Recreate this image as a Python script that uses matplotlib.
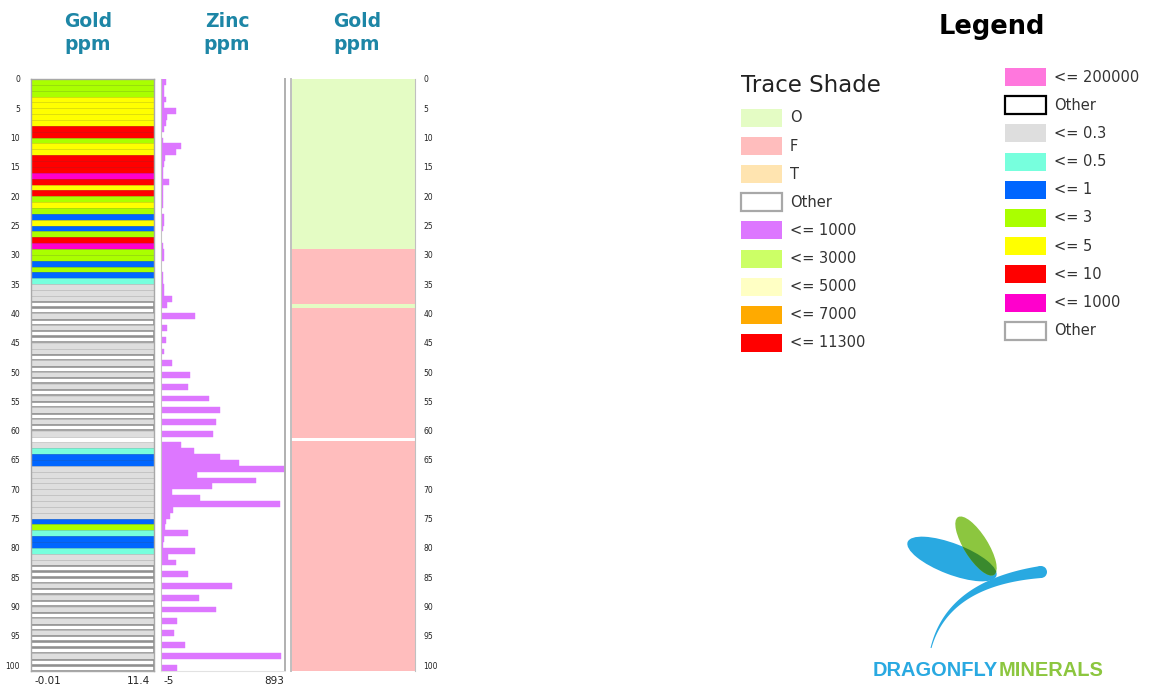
import numpy as np
import matplotlib
matplotlib.use("Agg")
import matplotlib.pyplot as plt
from matplotlib.patches import Rectangle, Ellipse, Polygon, Circle
from matplotlib.colors import to_rgb

# ---------------- data ----------------
depth = list(range(101))  # 1 m intervals, top depth

gold_class = (
    ["<= 3"] * 3 + ["<= 5"] * 5 + ["<= 10"] * 2 + ["<= 3"] + ["<= 5"] * 2 +
    ["<= 10"] * 3 + ["<= 1000", "<= 10", "<= 5", "<= 10", "<= 3", "<= 5", "<= 3",
                     "<= 1", "<= 5", "<= 1", "<= 3", "<= 10", "<= 1000", "<= 3", "<= 3",
                     "<= 1", "<= 3", "<= 1", "<= 0.5"] +
    ["<= 0.3"] * 3 +
    ["Other", "Other", "<= 0.3", "Other", "<= 0.3", "Other", "Other", "<= 0.3", "<= 0.3",
     "Other", "<= 0.3", "Other", "<= 0.3", "Other", "<= 0.3", "Other", "<= 0.3",
     "Other", "<= 0.3", "Other", "<= 0.3", "Other", "<= 0.3"] +
    [None, "<= 0.3", "<= 0.5", "<= 1", "<= 1"] +
    ["<= 0.3"] * 9 +
    ["<= 1", "<= 3", "<= 0.5", "<= 1", "<= 1", "<= 0.5", "<= 0.3", "<= 0.3",
     "Other", "Other", "Other", "<= 0.3", "Other", "<= 0.3", "Other", "<= 0.3",
     "Other", "<= 0.3", "Other", "<= 0.3", "Other", "Other", "Other", "<= 0.3",
     "Other", "Other"]
)

zinc_ppm = [34, 15, 20, 29, 20, 106, 41, 30, 20, np.nan,
            12, 137, 101, 25, 18, 12, 10, 53, 10, 6,
            6, 6, np.nan, 20, 20, 6, np.nan, np.nan, 6, 20,
            20, np.nan, np.nan, 6, 10, 15, 14, 72, 41, np.nan,
            241, np.nan, 36, np.nan, 29, np.nan, 17, np.nan, 77, np.nan,
            205, np.nan, 190, np.nan, 342, np.nan, 420, np.nan, 396, np.nan,
            369, np.nan, 140, 234, 420, 560, 893, 258, 680, 362,
            77, 275, 857, 80, 60, 29, 25, 193, 18, 10,
            241, 43, 101, np.nan, 188, np.nan, 512, np.nan, 270, np.nan,
            393, np.nan, 113, np.nan, 89, np.nan, 169, np.nan, 862, np.nan,
            108]

lith_from = [0, 29, 38.4, 39, 61.8]
lith_to = [29, 38.4, 39, 61.2, 101]
lith_code = ["O", "F", "O", "F", "F"]

gold_min, gold_max = -0.01, 11.4
zinc_min, zinc_max = -5, 893
depth_max = 101
depth_ticks = list(range(0, 101, 5))

headers = ["Gold\nppm", "Zinc\nppm", "Gold\nppm"]

legend_left_labels = ["O", "F", "T", "Other", "<= 1000", "<= 3000", "<= 5000", "<= 7000", "<= 11300"]
legend_left_colors = ["#e4fcc4", "#ffbdbd", "#ffe4b0", "#ffffff", "#dd77ff", "#ccff66", "#ffffc4", "#ffaa00", "#ff0000"]
legend_right_labels = ["<= 200000", "Other", "<= 0.3", "<= 0.5", "<= 1", "<= 3", "<= 5", "<= 10", "<= 1000", "Other"]
legend_right_colors = ["#ff77dd", "#ffffff", "#dedede", "#77ffdd", "#0066ff", "#aaff00", "#ffff00", "#ff0000", "#ff00cc", "#ffffff"]

gold_colors = {"<= 0.3": "#dedede", "<= 0.5": "#77ffdd", "<= 1": "#0066ff", "<= 3": "#aaff00",
               "<= 5": "#ffff00", "<= 10": "#ff0000", "<= 1000": "#ff00cc", "Other": "#ffffff"}
lith_colors = {"O": "#e4fcc4", "F": "#ffbdbd", "T": "#ffe4b0"}
zinc_color = "#dd77ff"
header_color = "#1d86a6"

# ---------------- figure ----------------
W, H = 1149, 689
fig = plt.figure(figsize=(W / 100, H / 100), dpi=100)


def rect(x0, y0, x1, y1):
    return [x0 / W, 1 - y1 / H, (x1 - x0) / W, (y1 - y0) / H]


# overlay axes in pixel coordinates (for headers, legend, logo)
ov = fig.add_axes([0, 0, 1, 1], zorder=-1)
ov.set_xlim(0, W)
ov.set_ylim(H, 0)
ov.axis("off")


def darker(c, f=0.82):
    r, g, b = to_rgb(c)
    return (r * f, g * f, b * f)


# ---- Gold column ----
axg = fig.add_axes(rect(31, 79, 154, 671))
for d, cl in zip(depth, gold_class):
    if cl is None:
        continue
    if cl == "Other":
        axg.barh(d + 0.5, gold_max - gold_min, left=gold_min, height=0.86, align="center",
                 color="white", edgecolor="#8a8a8a", linewidth=1.1)
    else:
        axg.barh(d, gold_max - gold_min, left=gold_min, height=1, align="edge",
                 color=gold_colors[cl], edgecolor=darker(gold_colors[cl]), linewidth=0.4)
axg.set_xlim(gold_min, gold_max)
axg.set_ylim(depth_max, 0)
axg.set_xticks([])
axg.set_yticks(depth_ticks)
axg.tick_params(axis="y", length=0, pad=8, labelsize=5.5, labelcolor="#222222")
for s in axg.spines.values():
    s.set_color("#a8a8a8")
    s.set_linewidth(1)
axg.text(0.03, -0.008, f"{gold_min:g}", transform=axg.transAxes, ha="left", va="top",
         fontsize=7.5, color="#222222")
axg.text(0.97, -0.008, f"{gold_max:g}", transform=axg.transAxes, ha="right", va="top",
         fontsize=7.5, color="#222222")

# ---- Zinc column ----
axz = fig.add_axes(rect(161, 79, 285, 671))
zinc_arr = np.array(zinc_ppm, dtype=float)
mask = ~np.isnan(zinc_arr)
axz.barh(np.array(depth)[mask], zinc_arr[mask], height=1, align="edge",
         color=zinc_color, edgecolor=zinc_color, linewidth=0.3)
axz.set_xlim(zinc_min, zinc_max)
axz.set_ylim(depth_max, 0)
axz.set_xticks([])
axz.set_yticks([])
axz.spines["top"].set_visible(False)
axz.spines["bottom"].set_color("#e2e2e2")
axz.spines["left"].set_color("#c4c4c4")
axz.spines["right"].set_color("#b0b0b0")
axz.spines["right"].set_linewidth(1.4)
axz.text(0.02, -0.008, f"{zinc_min:g}", transform=axz.transAxes, ha="left", va="top",
         fontsize=7.5, color="#222222")
axz.text(0.99, -0.008, f"{zinc_max:g}", transform=axz.transAxes, ha="right", va="top",
         fontsize=7.5, color="#222222")

# ---- Trace shade column ----
axl = fig.add_axes(rect(291, 79, 415, 671))
for f0, t0, c in zip(lith_from, lith_to, lith_code):
    axl.barh(f0, 1, left=0, height=t0 - f0, align="edge", color=lith_colors[c], linewidth=0)
axl.set_xlim(0, 1)
axl.set_ylim(depth_max, 0)
axl.set_xticks([])
axl.yaxis.tick_right()
axl.set_yticks(depth_ticks)
axl.tick_params(axis="y", length=0, pad=6, labelsize=5.5, labelcolor="#222222")
for s in axl.spines.values():
    s.set_color("#c0c0c0")
axl.spines["top"].set_visible(False)
axl.spines["bottom"].set_visible(False)
axl.spines["left"].set_linewidth(1.4)

# ---- headers ----
for x, h in zip([88, 227, 357], headers):
    ov.text(x, 33, h, ha="center", va="center", fontsize=13.5, fontweight="bold",
            color=header_color, linespacing=1.3)

# ---- legend ----
ov.text(992, 27, "Legend", ha="center", va="center", fontsize=18.5, fontweight="bold", color="black")
ov.text(741, 85, "Trace Shade", ha="left", va="center", fontsize=16.5, color="#222222")

for i, (lab, col) in enumerate(zip(legend_left_labels, legend_left_colors)):
    yc = 118 + 28.1 * i
    ec = "#a8a8a8" if lab == "Other" else col
    lw = 1.6 if lab == "Other" else 0
    ov.add_patch(Rectangle((741, yc - 9), 41, 18, facecolor=col, edgecolor=ec, linewidth=lw))
    ov.text(790, yc, lab, ha="left", va="center", fontsize=10.5, color="#333333")

for i, (lab, col) in enumerate(zip(legend_right_labels, legend_right_colors)):
    yc = 77 + 28.2 * i
    if lab == "Other":
        ec = "black" if i == 1 else "#a8a8a8"
        lw = 1.6
    else:
        ec, lw = col, 0
    ov.add_patch(Rectangle((1005, yc - 9), 41, 18, facecolor=col, edgecolor=ec, linewidth=lw))
    ov.text(1054, yc, lab, ha="left", va="center", fontsize=10.5, color="#333333")

# ---- logo ----
blue = "#29a9e1"
green = "#8cc63f"
wing_b = Ellipse((952, 559), 95, 31, angle=21, facecolor=blue, edgecolor="none")
wing_g = Ellipse((976, 546), 68, 24, angle=58, facecolor=green, edgecolor="none")
ov.add_patch(wing_b)
ov.add_patch(wing_g)
overlap = Ellipse((976, 546), 68, 24, angle=58, facecolor="#3a8a2e", edgecolor="none")
ov.add_patch(overlap)
overlap.set_clip_path(wing_b)

P0 = np.array([931, 648.0])
P1 = np.array([948, 583.0])
P2 = np.array([1041, 572.0])
t = np.linspace(0, 1, 80)[:, None]
pts = (1 - t) ** 2 * P0 + 2 * (1 - t) * t * P1 + t ** 2 * P2
der = 2 * (1 - t) * (P1 - P0) + 2 * t * (P2 - P1)
nrm = np.column_stack([-der[:, 1], der[:, 0]])
nrm /= np.linalg.norm(nrm, axis=1)[:, None]
wdt = (1.0 + 11.0 * t[:, 0] ** 1.3) / 2
side1 = pts + nrm * wdt[:, None]
side2 = pts - nrm * wdt[:, None]
ov.add_patch(Polygon(np.vstack([side1, side2[::-1]]), closed=True, facecolor=blue, edgecolor="none"))
ov.add_patch(Circle(P2, wdt[-1], facecolor=blue, edgecolor="none"))

t1 = ov.text(873, 670, "DRAGONFLY", ha="left", va="center", fontsize=14.4, fontweight="bold",
             color=blue, family="Liberation Sans")
ov.annotate("MINERALS", xy=(1, 0.5), xycoords=t1, ha="left", va="center", fontsize=14.4,
            fontweight="bold", color=green, family="Liberation Sans")

fig.savefig("out.png", dpi=100)
